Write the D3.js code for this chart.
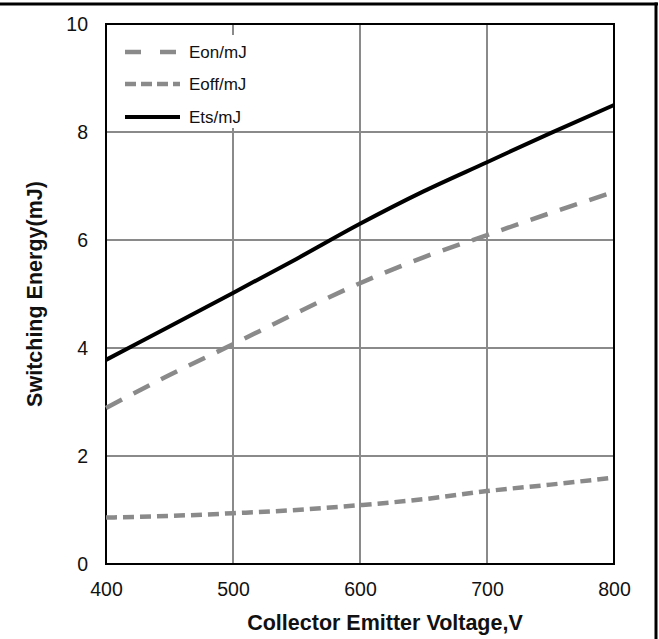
<!DOCTYPE html>
<html><head><meta charset="utf-8">
<script src="https://cdn.jsdelivr.net/npm/d3@7"></script>
<style>
html,body{margin:0;padding:0;background:#fff;}
svg{display:block;font-family:"Liberation Sans",Arial,sans-serif;}
</style></head>
<body>
<svg id="chart" width="659" height="639"></svg>
<script>
const voltage = [400, 450, 500, 550, 600, 650, 700, 750, 800];
const eon  = [2.89, 3.50, 4.07, 4.65, 5.20, 5.68, 6.09, 6.50, 6.89];
const eoff = [0.86, 0.89, 0.94, 1.00, 1.09, 1.20, 1.35, 1.47, 1.60];
const ets  = [3.78, 4.40, 5.02, 5.65, 6.30, 6.90, 7.44, 7.98, 8.50];
const xTicks = [400, 500, 600, 700, 800];
const yTicks = [0, 2, 4, 6, 8, 10];
const seriesNames = ["Eon/mJ", "Eoff/mJ", "Ets/mJ"];

const svg = d3.select("#chart");
const L = 106, R = 614, T = 24, B = 564;
const x = d3.scaleLinear().domain([400, 800]).range([L, R]);
const y = d3.scaleLinear().domain([0, 10]).range([B, T]);

// outer frame (top and right)
svg.append("line").attr("x1", 0).attr("x2", 658).attr("y1", 4).attr("y2", 4)
  .attr("stroke", "#000").attr("stroke-width", 3);
svg.append("line").attr("x1", 656).attr("x2", 656).attr("y1", 2.5).attr("y2", 639)
  .attr("stroke", "#000").attr("stroke-width", 3);

// grid
const grid = svg.append("g");
grid.selectAll(".vg").data(xTicks.slice(1, -1)).enter().append("line")
  .attr("x1", d => x(d)).attr("x2", d => x(d)).attr("y1", T).attr("y2", B)
  .attr("stroke", "#8a8a8a").attr("stroke-width", 2);
grid.selectAll(".hg").data(yTicks.slice(1, -1)).enter().append("line")
  .attr("x1", L).attr("x2", R).attr("y1", d => y(d)).attr("y2", d => y(d))
  .attr("stroke", "#8a8a8a").attr("stroke-width", 2);

// legend background (covers grid)
svg.append("rect").attr("x", 117).attr("y", 35).attr("width", 146).attr("height", 93)
  .attr("fill", "#fff");

// plot frame
svg.append("rect").attr("x", L).attr("y", T).attr("width", R - L).attr("height", B - T)
  .attr("fill", "none").attr("stroke", "#000").attr("stroke-width", 2);

// axes (labels only)
const xAxis = svg.append("g").attr("transform", `translate(0,${B})`)
  .call(d3.axisBottom(x).tickValues(xTicks).tickSize(0).tickPadding(18).tickFormat(d3.format("d")));
const yAxis = svg.append("g").attr("transform", `translate(${L},0)`)
  .call(d3.axisLeft(y).tickValues(yTicks).tickSize(0).tickPadding(18).tickFormat(d3.format("d")));
[xAxis, yAxis].forEach(a => {
  a.select(".domain").remove();
  a.selectAll("text").attr("font-size", 19.5).attr("fill", "#111")
    .attr("font-family", '"Liberation Sans",Arial,sans-serif');
});

// series
const styles = [
  {data: eon, color: "#8a8a8a", width: 4.5, dash: "18,13"},
  {data: eoff, color: "#8a8a8a", width: 4.5, dash: "11,6"},
  {data: ets, color: "#000", width: 4, dash: null}
];
const line = d3.line().x((d, i) => x(voltage[i])).y(d => y(d)).curve(d3.curveMonotoneX);
styles.forEach(s => {
  svg.append("path").attr("d", line(s.data)).attr("fill", "none")
    .attr("stroke", s.color).attr("stroke-width", s.width)
    .attr("stroke-dasharray", s.dash);
});

// legend
const legY = [52, 84, 117];
const legDash = ["16,19", "11,5", null];
seriesNames.forEach((n, i) => {
  svg.append("line").attr("x1", 125).attr("x2", 180).attr("y1", legY[i]).attr("y2", legY[i])
    .attr("stroke", styles[i].color).attr("stroke-width", styles[i].width)
    .attr("stroke-dasharray", legDash[i]);
  svg.append("text").attr("x", 189).attr("y", legY[i]).attr("dy", "0.35em")
    .attr("font-size", 17).attr("fill", "#111").text(n);
});

// axis titles
svg.append("text").attr("x", 385).attr("y", 630).attr("text-anchor", "middle")
  .attr("font-size", 21.5).attr("font-weight", "bold").attr("fill", "#111")
  .text("Collector Emitter Voltage,V");
svg.append("text").attr("transform", `translate(42,${(T + B) / 2}) rotate(-90)`)
  .attr("text-anchor", "middle").attr("font-size", 21.5).attr("font-weight", "bold")
  .attr("fill", "#111").text("Switching Energy(mJ)");
</script>
</body></html>
